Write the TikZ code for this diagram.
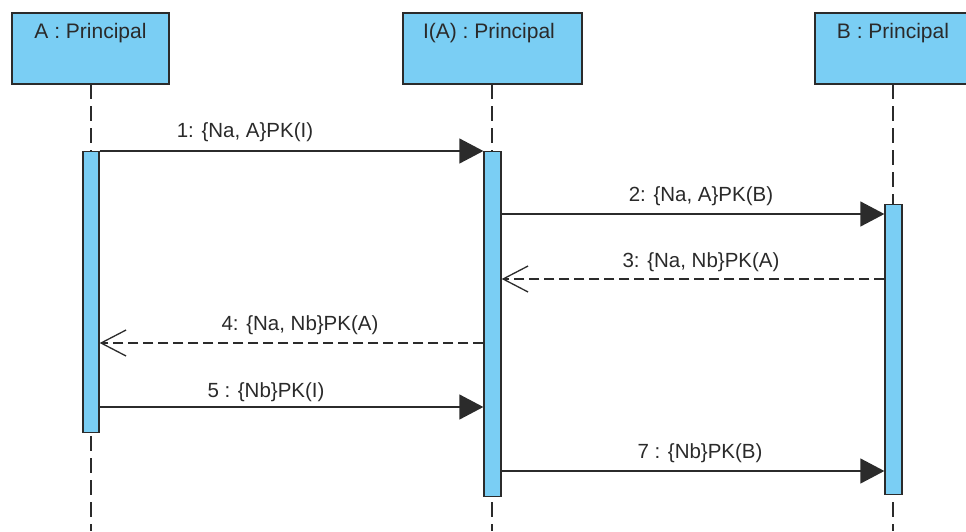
\documentclass[tikz,border=0pt]{standalone}
\usepackage{fontspec}
\setmainfont{Liberation Sans}
\usetikzlibrary{arrows.meta}
\definecolor{actorfill}{HTML}{7ACEF4}
\definecolor{edge}{HTML}{2B2B2B}
\definecolor{ink}{HTML}{2A2A2A}
\tikzset{
  actor/.style={draw=edge, line width=1.3pt, fill=actorfill},
  activation/.style={draw=edge, line width=1.3pt, fill=actorfill},
  lifeline/.style={draw=edge, line width=1.4pt, dash pattern=on 15pt off 7pt},
  title/.style={anchor=base, text=ink, font=\fontsize{21}{24}\selectfont, inner sep=0pt},
  msglabel/.style={anchor=base, text=ink, font=\fontsize{20.5}{24}\selectfont, inner sep=0pt},
  call/.style={draw=edge, line width=1.3pt, -{Triangle[length=24pt,width=25pt]}},
  reply/.style={draw=edge, line width=1.3pt, dash pattern=on 10pt off 5pt,
    -{Straight Barb[length=25pt,width=26pt,line width=1.3pt]}},
}
\begin{document}
\begin{tikzpicture}[x=1pt, y=-1pt]
\useasboundingbox (0,0) rectangle (966,531);
\clip (0,0) rectangle (966,531);

% participant heads
\path[actor] (12,13) rectangle (169,84);
\path[actor] (403,13) rectangle (582,84);
\path[actor] (815,13) rectangle (975,84);
\node[title] (tA) at (90.5,38) {A : Principal};
\node[title] (tI) at (489,38) {I(A) : Principal};
\node[title] (tB) at (893,38) {B : Principal};

% lifelines
\coordinate (lA0) at (91,84);  \coordinate (lA1) at (91,531);
\coordinate (lI0) at (492,84); \coordinate (lI1) at (492,531);
\coordinate (lB0) at (893,84); \coordinate (lB1) at (893,531);
\draw[lifeline] (lA0) -- (lA1);
\draw[lifeline] (lI0) -- (lI1);
\draw[lifeline] (lB0) -- (lB1);

% activation bars
\node[activation, inner sep=0pt, minimum width=16pt, minimum height=281pt, anchor=north] (actA) at (91,151) {};
\node[activation, inner sep=0pt, minimum width=17pt, minimum height=345pt, anchor=north] (actI) at (492.5,151) {};
\node[activation, inner sep=0pt, minimum width=17pt, minimum height=290pt, anchor=north] (actB) at (893.5,204) {};

% messages
\draw[call]  (actA.east |- 0,151) -- (actI.west |- 0,151);
\node[msglabel] (m1) at (245,137) {1: \{Na, A\}PK(I)};

\draw[call]  (actI.east |- 0,214) -- (actB.west |- 0,214);
\node[msglabel] (m2) at (701,201) {2: \{Na, A\}PK(B)};

\draw[reply] (actB.west |- 0,279) -- (actI.east |- 0,279);
\node[msglabel] (m3) at (701,267) {3: \{Na, Nb\}PK(A)};

\draw[reply] (actI.west |- 0,343) -- (actA.east |- 0,343);
\node[msglabel] (m4) at (300,330) {4: \{Na, Nb\}PK(A)};

\draw[call]  (actA.east |- 0,407) -- (actI.west |- 0,407);
\node[msglabel] (m5) at (266,397) {5 : \{Nb\}PK(I)};

\draw[call]  (actI.east |- 0,471) -- (actB.west |- 0,471);
\node[msglabel] (m7) at (700,458) {7 : \{Nb\}PK(B)};
\end{tikzpicture}
\end{document}
